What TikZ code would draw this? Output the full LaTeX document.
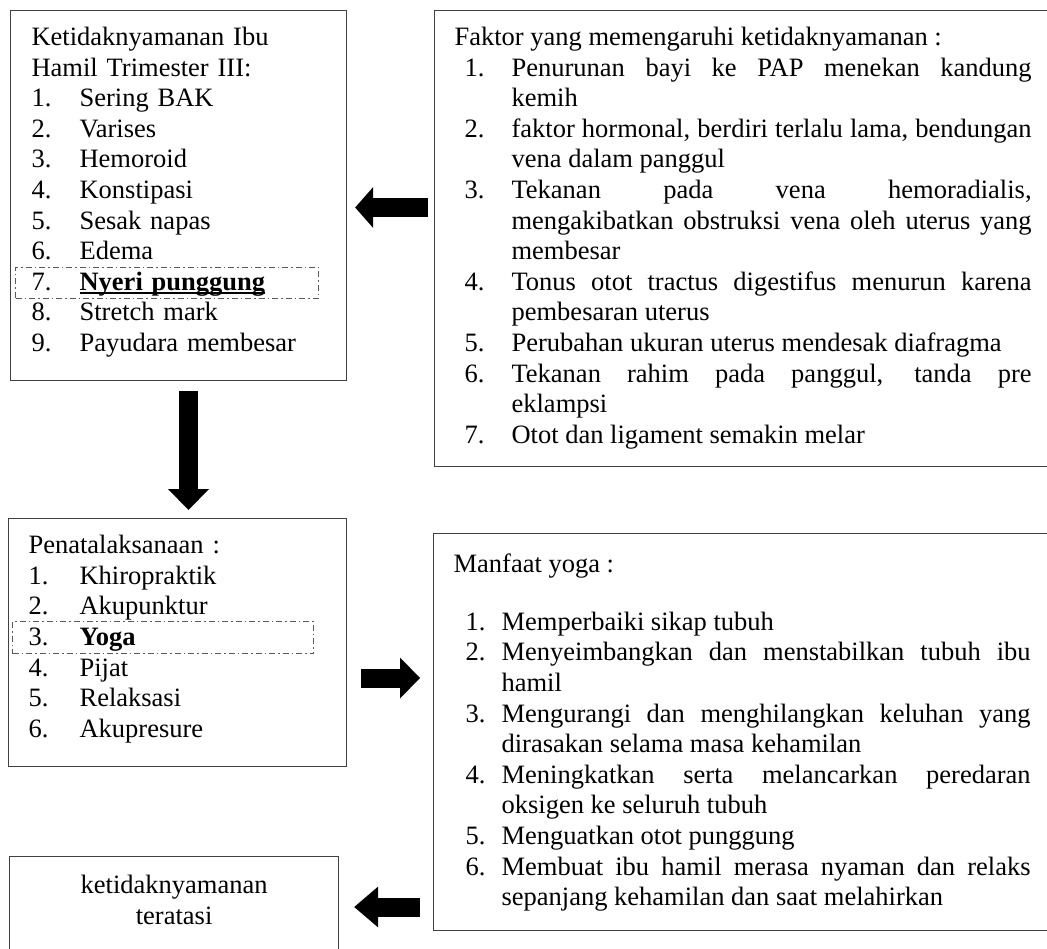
\documentclass[tikz,border=0pt]{standalone}
\usepackage{fontspec}
\setmainfont{Liberation Serif}
\usetikzlibrary{arrows.meta}
\usepackage{xcolor}
\colorlet{garis}{black!75}
\newcommand{\tnr}{\fontsize{26.5pt}{30.6pt}\selectfont\tolerance=10000\hbadness=10000 }
\newcommand{\butir}[3]{\par\noindent\hangindent=#1\hangafter=1\makebox[#1][l]{\hspace{#2}#3}}
\newcommand{\garisbawah}[1]{\setbox0\hbox{#1}\rlap{\rule[-3.5pt]{\wd0}{1.4pt}}\box0}
\tikzstyle{kotak}=[draw=garis,line width=1.2pt,anchor=north west,inner xsep=20pt,inner ysep=12pt,text height=23pt,font=\tnr]
\tikzstyle{sorot}=[draw=black!65,line width=1pt,dash pattern=on 6pt off 3pt on 1.5pt off 3pt,anchor=north west,inner sep=0pt]
\tikzset{panah/.style={line width=19pt,-{Triangle[length=#1,width=41pt,line width=0pt]}}}

\begin{document}
\begin{tikzpicture}[x=1pt, y=-1pt]
\useasboundingbox (0,0) rectangle (1047,949);
\clip (0,0) rectangle (1047,949);

% kotak-kotak
\node[kotak, inner xsep=21pt, text width=294pt, text depth=323pt, align=left] (keluhan) at (10,10) {Ketidaknyamanan Ibu\\Hamil Trimester III:
  \butir{48pt}{0pt}{1.}Sering BAK
  \butir{48pt}{0pt}{2.}Varises
  \butir{48pt}{0pt}{3.}Hemoroid
  \butir{48pt}{0pt}{4.}Konstipasi
  \butir{48pt}{0pt}{5.}Sesak napas
  \butir{48pt}{0pt}{6.}Edema
  \butir{48pt}{0pt}{7.}\textbf{\garisbawah{Nyeri punggung}}
  \butir{48pt}{0pt}{8.}Stretch mark
  \butir{48pt}{0pt}{9.}Payudara membesar\par};

\node[kotak, text width=577pt, text depth=409pt, align=justify] (faktor) at (434,10) {Faktor yang memengaruhi ketidaknyamanan :
  \butir{57pt}{10pt}{1.}Penurunan bayi ke PAP menekan kandung\linebreak kemih
  \butir{57pt}{10pt}{2.}faktor hormonal, berdiri terlalu lama, bendungan\linebreak vena dalam panggul
  \butir{57pt}{10pt}{3.}Tekanan pada vena hemoradialis,\linebreak mengakibatkan obstruksi vena oleh uterus yang\linebreak membesar
  \butir{57pt}{10pt}{4.}Tonus otot tractus digestifus menurun karena\linebreak pembesaran uterus
  \butir{57pt}{10pt}{5.}Perubahan ukuran uterus mendesak diafragma
  \butir{57pt}{10pt}{6.}Tekanan rahim pada panggul, tanda pre\linebreak eklampsi
  \butir{57pt}{10pt}{7.}Otot dan ligament semakin melar\par};

\node[kotak, text width=298pt, text depth=201pt, align=left] (tatalaksana) at (8,518) {Penatalaksanaan :
  \butir{51pt}{0pt}{1.}Khiropraktik
  \butir{51pt}{0pt}{2.}Akupunktur
  \butir{51pt}{0pt}{3.}\textbf{Yoga}
  \butir{51pt}{0pt}{4.}Pijat
  \butir{51pt}{0pt}{5.}Relaksasi
  \butir{51pt}{0pt}{6.}Akupresure\par};

\node[kotak, text width=577pt, text height=27pt, text depth=346pt, align=justify] (manfaat) at (433,533) {Manfaat yoga :\par\vspace{27pt}
  \butir{48pt}{12pt}{1.}Memperbaiki sikap tubuh
  \butir{48pt}{12pt}{2.}Menyeimbangkan dan menstabilkan tubuh ibu\linebreak hamil
  \butir{48pt}{12pt}{3.}Mengurangi dan menghilangkan keluhan yang\linebreak dirasakan selama masa kehamilan
  \butir{48pt}{12pt}{4.}Meningkatkan serta melancarkan peredaran\linebreak oksigen ke seluruh tubuh
  \butir{48pt}{12pt}{5.}Menguatkan otot punggung
  \butir{48pt}{12pt}{6.}Membuat ibu hamil merasa nyaman dan relaks\linebreak sepanjang kehamilan dan saat melahirkan\par};

\node[kotak, text width=289pt, text depth=80pt, inner ysep=14pt, align=center] (teratasi) at (9,856) {ketidaknyamanan\\teratasi};

% sorotan putus-putus
\node[sorot, minimum width=303pt, minimum height=31pt] (sorot-nyeri) at (15,267) {};
\node[sorot, minimum width=301pt, minimum height=32pt] (sorot-yoga) at (12,621) {};

% panah blok
\coordinate (p-turun) at (188.5,0);
\coordinate (p-kiri) at (0,207.5);
\coordinate (p-kanan) at (0,678);
\coordinate (p-bawah) at (0,907);
\draw[panah=21pt, shorten <=10pt, shorten >=8pt] (keluhan.south -| p-turun) -- (tatalaksana.north -| p-turun);
\draw[panah=18pt, shorten <=6pt, shorten >=8pt] (faktor.west |- p-kiri) -- (keluhan.east |- p-kiri);
\draw[panah=20pt, shorten <=14pt, shorten >=13pt] (tatalaksana.east |- p-kanan) -- (manfaat.west |- p-kanan);
\draw[panah=24pt, shorten <=13pt, shorten >=15pt] (manfaat.west |- p-bawah) -- (teratasi.east |- p-bawah);

\end{tikzpicture}
\end{document}
